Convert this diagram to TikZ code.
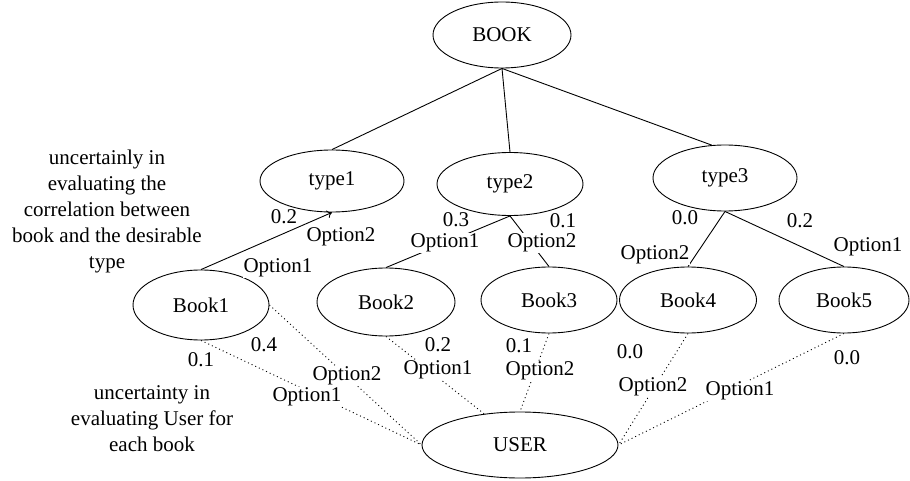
\documentclass[tikz,border=0pt]{standalone}
\usepackage{fontspec}
\setmainfont{Liberation Serif}
\usetikzlibrary{shapes.geometric,arrows.meta}
\begin{document}
\begin{tikzpicture}[x=1pt,y=-1pt,
  every node/.style={font=\fontsize{21}{26}\selectfont},
  ell/.style 2 args={draw, ellipse, line width=0.9pt, inner sep=0pt, minimum width=#1, minimum height=#2},
  edge/.style={line width=0.9pt},
  dotedge/.style={line width=0.9pt, dash pattern=on 1pt off 3pt},
  lbl/.style={fill=white, inner sep=0.5pt},
  note/.style={align=center, inner sep=0pt}]
\useasboundingbox (0,0) rectangle (910,481);

% nodes
\node[ell={138}{66}] (book)  at (502,35)  {BOOK};
\node[ell={144}{62}] (type1) at (332,181) {type1};
\node[ell={146}{63}] (type2) at (510,184) {type2};
\node[ell={144}{66}] (type3) at (725,178) {type3};
\node[ell={136}{70}] (book1) at (201,305) {Book1};
\node[ell={138}{68}] (book2) at (386,302) {Book2};
\node[ell={136}{66}] (book3) at (549,300) {Book3};
\node[ell={137}{66}] (book4) at (688,300) {Book4};
\node[ell={130}{66}] (book5) at (844,300) {Book5};
\node[ell={196}{66}] (user)  at (520,445) {USER};

% notes
\node[note] (n1) at (107,211) {uncertainly in\\evaluating the\\correlation between\\book and the desirable\\type};
\node[note] (n2) at (152,419) {uncertainty in\\evaluating User for\\each book};

% solid edges
\draw[edge] (book.south) -- (type1.north);
\draw[edge] (book.south) -- (type2.north);
\draw[edge] (book.south) -- (type3.112);
\draw[edge,-{To[length=5pt,width=8pt]}] (book1.north) -- (type1.south);
\draw[edge] (type2.south) -- (book2.north);
\draw[edge] (type2.south) -- (book3.north);
\draw[edge] (type3.south) -- (book4.north);
\draw[edge] (type3.south) -- (book5.north);

% dotted edges
\draw[dotedge] (book1.south) -- (user.west);
\draw[dotedge] (book1.east) -- (user.west);
\draw[dotedge] (book2.south) -- (user.139);
\draw[dotedge] (book3.south) -- (user.north);
\draw[dotedge] (book4.south) -- (user.east);
\draw[dotedge] (book5.south) -- (user.east);

% labels, upper part
\node[lbl] (l1) at (284,217) {0.2};
\node[lbl] (l2) at (341,237) {Option2};
\node[lbl] (l3) at (278,268) {Option1};
\node[lbl] (l4) at (456,220) {0.3};
\node[lbl] (l5) at (445,243) {Option1};
\node[lbl] (l6) at (542,243) {Option2};
\node[lbl] (l7) at (563,221) {0.1};
\node[lbl] (l8) at (685,218) {0.0};
\node[lbl] (l9) at (655,255) {Option2};
\node[lbl] (l10) at (800,221) {0.2};
\node[lbl] (l11) at (868,247) {Option1};

% labels, lower part
\node[lbl] (m1) at (201,360) {0.1};
\node[lbl] (m2) at (264,345) {0.4};
\node[lbl] (m3) at (347,376) {Option2};
\node[lbl] (m4) at (307,397) {Option1};
\node[lbl] (m5) at (438,345) {0.2};
\node[lbl] (m6) at (438,370) {Option1};
\node[lbl] (m7) at (519,346) {0.1};
\node[lbl] (m8) at (540,371) {Option2};
\node[lbl] (m9) at (630,352) {0.0};
\node[lbl] (m10) at (653,387) {Option2};
\node[lbl] (m11) at (847,358) {0.0};
\node[lbl] (m12) at (740,391) {Option1};
\end{tikzpicture}
\end{document}
